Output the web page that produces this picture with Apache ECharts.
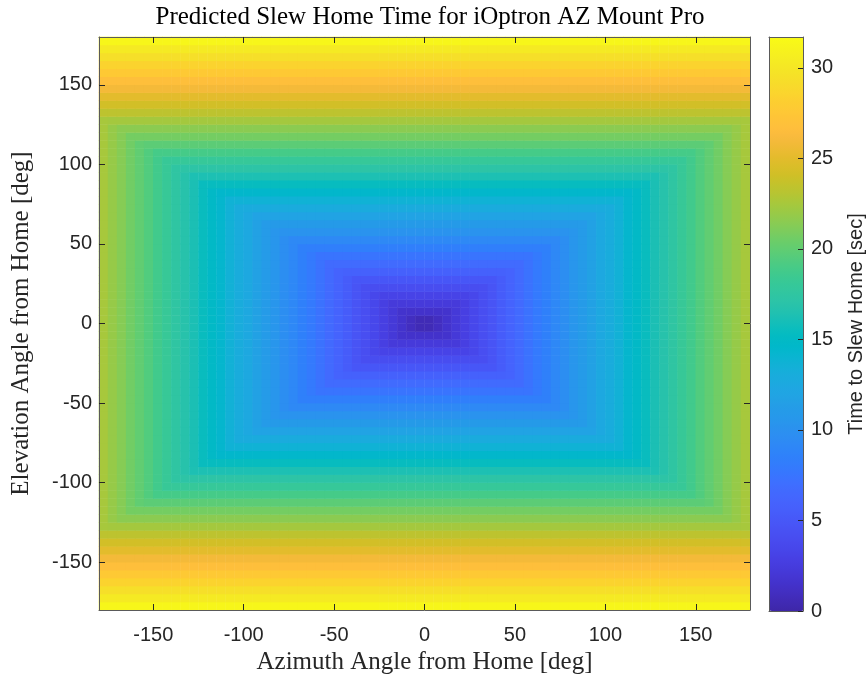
<!DOCTYPE html>
<html>
<head>
<meta charset="utf-8">
<script src="https://cdn.jsdelivr.net/npm/echarts@6/dist/echarts.min.js"></script>
<style>
  html, body { margin: 0; padding: 0; background: #ffffff; }
  #chart { width: 867px; height: 681px; }
</style>
</head>
<body>
<div id="chart"></div>
<script>
// Angular offsets from home (cell centres, degrees) for one side of each axis
const profileAngles = [2.5, 7.5, 12.5, 17.5, 22.5, 27.5, 32.5, 37.5, 42.5, 47.5,
  52.5, 57.5, 62.5, 67.5, 72.5, 77.5, 82.5, 87.5, 92.5, 97.5,
  102.5, 107.5, 112.5, 117.5, 122.5, 127.5, 132.5, 137.5, 142.5, 147.5,
  152.5, 157.5, 162.5, 167.5, 172.5, 177.5];

// Slew time of the azimuth axis alone (sec) for each offset in profileAngles
const azimuthTime = [0.4, 1.0, 1.6, 2.2, 2.8, 3.5, 4.1, 4.7, 5.4, 6.0,
  6.6, 7.3, 7.9, 8.5, 9.2, 9.8, 10.5, 11.1, 11.7, 12.4,
  13.0, 13.6, 14.3, 14.9, 15.5, 16.2, 16.8, 17.4, 18.1, 18.7,
  19.4, 20.0, 20.6, 21.3, 21.9, 22.5];

// Slew time of the elevation axis alone (sec) for each offset in profileAngles
const elevationTime = [0.6, 1.5, 2.3, 3.2, 4.0, 4.9, 5.8, 6.7, 7.5, 8.4,
  9.3, 10.2, 11.0, 11.9, 12.8, 13.7, 14.5, 15.4, 16.3, 17.2,
  18.0, 18.9, 19.8, 20.7, 21.5, 22.4, 23.3, 24.2, 25.0, 25.9,
  26.8, 27.7, 28.5, 29.4, 30.3, 31.3];

const axisTicks = [-150, -100, -50, 0, 50, 100, 150];
const colorbarTicks = [0, 5, 10, 15, 20, 25, 30];
const timeMax = 31.7;

// parula colour map (64 steps)
const parulaRGB = [
  [0.2422,0.1504,0.6603],[0.2504,0.1650,0.7076],[0.2578,0.1818,0.7511],[0.2647,0.1978,0.7952],
  [0.2706,0.2147,0.8364],[0.2751,0.2342,0.8710],[0.2783,0.2559,0.8991],[0.2803,0.2782,0.9221],
  [0.2813,0.3006,0.9414],[0.2810,0.3228,0.9579],[0.2795,0.3447,0.9717],[0.2760,0.3667,0.9829],
  [0.2699,0.3892,0.9906],[0.2602,0.4123,0.9952],[0.2440,0.4358,0.9988],[0.2206,0.4603,0.9973],
  [0.1963,0.4847,0.9892],[0.1834,0.5074,0.9798],[0.1786,0.5289,0.9682],[0.1764,0.5499,0.9520],
  [0.1687,0.5703,0.9359],[0.1540,0.5902,0.9218],[0.1460,0.6091,0.9079],[0.1380,0.6276,0.8973],
  [0.1248,0.6459,0.8883],[0.1113,0.6635,0.8763],[0.0952,0.6798,0.8598],[0.0689,0.6948,0.8394],
  [0.0297,0.7082,0.8163],[0.0036,0.7203,0.7917],[0.0067,0.7312,0.7660],[0.0433,0.7411,0.7394],
  [0.0964,0.7500,0.7120],[0.1408,0.7584,0.6842],[0.1717,0.7670,0.6554],[0.1938,0.7758,0.6251],
  [0.2161,0.7843,0.5923],[0.2470,0.7918,0.5567],[0.2906,0.7973,0.5188],[0.3406,0.8008,0.4789],
  [0.3909,0.8029,0.4354],[0.4456,0.8024,0.3909],[0.5044,0.7993,0.3480],[0.5616,0.7942,0.3045],
  [0.6174,0.7876,0.2612],[0.6720,0.7793,0.2227],[0.7242,0.7698,0.1910],[0.7738,0.7598,0.1646],
  [0.8203,0.7498,0.1535],[0.8634,0.7406,0.1596],[0.9035,0.7330,0.1774],[0.9393,0.7288,0.2100],
  [0.9728,0.7298,0.2394],[0.9956,0.7434,0.2371],[0.9970,0.7659,0.2199],[0.9952,0.7893,0.2028],
  [0.9892,0.8136,0.1885],[0.9786,0.8386,0.1766],[0.9676,0.8639,0.1643],[0.9610,0.8890,0.1537],
  [0.9597,0.9135,0.1423],[0.9628,0.9373,0.1265],[0.9691,0.9606,0.1064],[0.9769,0.9839,0.0805]
];
const parula = parulaRGB.map(c => 'rgb(' + c.map(v => Math.round(v * 255)).join(',') + ')');

// Both axes slew at once, so the time home is the longer of the two.
const cellIndex = [];
for (let k = profileAngles.length - 1; k >= 0; k--) cellIndex.push(k);
for (let k = 0; k < profileAngles.length; k++) cellIndex.push(k);
const cellLabels = cellIndex.map((k, i) => String(i < profileAngles.length ? -profileAngles[k] : profileAngles[k]));

const heat = [];
for (let i = 0; i < cellIndex.length; i++) {
  for (let j = 0; j < cellIndex.length; j++) {
    heat.push([i, j, Math.max(azimuthTime[cellIndex[i]], elevationTime[cellIndex[j]])]);
  }
}

const lineColor = '#5a5a5a';
const tickColor = '#262626';
const labelFont = { fontFamily: 'Liberation Sans', fontSize: 20, color: '#262626' };
const nameFont = { fontFamily: 'Liberation Serif', fontSize: 25, color: '#262626' };

function frameAxis(extra) {
  return Object.assign({
    type: 'value',
    z: 10,
    axisLine: { show: true, onZero: false, lineStyle: { color: lineColor, width: 1 } },
    axisTick: { show: false },
    axisLabel: { show: false },
    splitLine: { show: false }
  }, extra);
}

const chart = echarts.init(document.getElementById('chart'), null, { renderer: 'canvas' });
chart.setOption({
  animation: false,
  backgroundColor: '#ffffff',
  title: {
    text: 'Predicted Slew Home Time for iOptron AZ Mount Pro',
    left: 425, top: 0, textAlign: 'center',
    textStyle: { fontFamily: 'Liberation Serif', fontSize: 25, fontWeight: 'normal', color: '#000000' }
  },
  grid: [
    { left: 99, top: 37, width: 651, height: 573 },
    { left: 769, top: 37, width: 35, height: 574 }
  ],
  xAxis: [
    { type: 'category', gridIndex: 0, data: cellLabels, show: false },
    frameAxis({
      gridIndex: 0, position: 'bottom', min: -180, max: 180,
      axisTick: { show: true, inside: true, length: 6, customValues: axisTicks, lineStyle: { color: tickColor } },
      axisLabel: { show: true, customValues: axisTicks, margin: 15, ...labelFont },
      name: 'Azimuth Angle from Home [deg]', nameLocation: 'middle', nameGap: 40, nameTextStyle: nameFont
    }),
    frameAxis({
      gridIndex: 0, position: 'top', min: -180, max: 180,
      axisTick: { show: true, inside: true, length: 6, customValues: axisTicks, lineStyle: { color: tickColor } }
    }),
    frameAxis({ gridIndex: 1, position: 'bottom', min: 0, max: 1 }),
    frameAxis({ gridIndex: 1, position: 'top', min: 0, max: 1 })
  ],
  yAxis: [
    { type: 'category', gridIndex: 0, data: cellLabels, show: false },
    frameAxis({
      gridIndex: 0, position: 'left', min: -180, max: 180,
      axisTick: { show: true, inside: true, length: 6, customValues: axisTicks, lineStyle: { color: tickColor } },
      axisLabel: { show: true, customValues: axisTicks, margin: 7, ...labelFont },
      name: 'Elevation Angle from Home [deg]', nameLocation: 'middle', nameGap: 65, nameTextStyle: nameFont
    }),
    frameAxis({
      gridIndex: 0, position: 'right', min: -180, max: 180,
      axisTick: { show: true, inside: true, length: 6, customValues: axisTicks, lineStyle: { color: tickColor } }
    }),
    frameAxis({ gridIndex: 1, position: 'left', min: 0, max: timeMax }),
    frameAxis({
      gridIndex: 1, position: 'right', min: 0, max: timeMax,
      axisTick: { show: true, inside: true, length: 5, customValues: colorbarTicks, lineStyle: { color: tickColor } },
      axisLabel: { show: true, customValues: colorbarTicks, margin: 8, ...labelFont },
      name: 'Time to Slew Home [sec]', nameLocation: 'middle', nameGap: 43,
      nameTextStyle: { fontFamily: 'Liberation Sans', fontSize: 20, color: '#262626' }
    })
  ],
  visualMap: {
    type: 'continuous',
    seriesIndex: 0,
    dimension: 2,
    min: 0, max: timeMax,
    calculable: false,
    hoverLink: false,
    orient: 'vertical',
    left: 769, top: 37,
    itemWidth: 35, itemHeight: 574,
    padding: 0,
    text: null,
    inRange: { color: parula }
  },
  series: [{
    type: 'heatmap',
    xAxisIndex: 0, yAxisIndex: 0,
    data: heat,
    progressive: 0,
    itemStyle: { borderWidth: 0 },
    emphasis: { disabled: true }
  }]
});
</script>
</body>
</html>
